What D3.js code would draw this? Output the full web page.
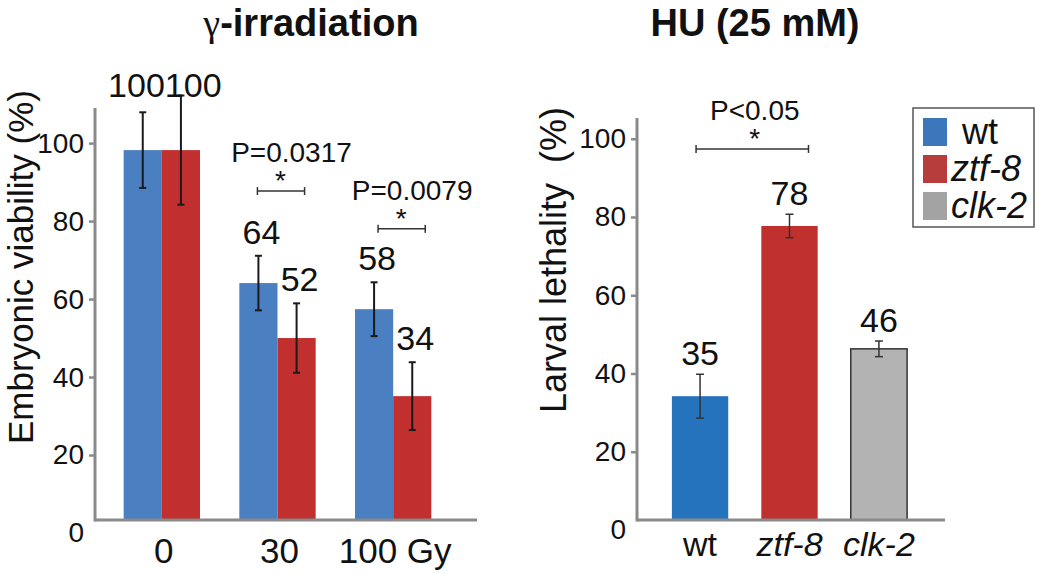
<!DOCTYPE html>
<html>
<head>
<meta charset="utf-8">
<script src="https://cdn.jsdelivr.net/npm/d3@7"></script>
<style>
  body { margin: 0; background: #fff; }
  svg text { font-family: "Liberation Sans", Arial, sans-serif; fill: #111; }
</style>
</head>
<body>
<svg id="chart" width="1050" height="574"></svg>
<script>
// left panel: gamma irradiation, embryonic viability
var doses = ["0", "30", "100 Gy"];
var strains = ["wt", "ztf-8"];
var wtViab = [98.2, 64.1, 57.4];
var wtViabSd = [9.7, 7, 6.9];
var ztfViab = [98.2, 50, 35.1];
var ztfViabSd = [14, 8.9, 8.7];
var wtViabLabel = ["100", "64", "58"];
var ztfViabLabel = ["100", "52", "34"];
var viabTicks = [0, 20, 40, 60, 80, 100];
var viabSig = [
  {dose: "30", level: 87.7, p: "P=0.0317"},
  {dose: "100 Gy", level: 78, p: "P=0.0079"}
];

// right panel: HU, larval lethality
var huStrains = ["wt", "ztf-8", "clk-2"];
var huLeth = [34.2, 77.7, 46.3];
var huLethSd = [5.6, 3, 2];
var huLethLabel = ["35", "78", "46"];
var lethTicks = [0, 20, 40, 60, 80, 100];
var lethSig = {from: "wt", to: "ztf-8", level: 97.4, p: "P<0.05"};

var baseline = 520;
var svg = d3.select("#chart");

var colors = {
  left: {"wt": "#4a7fc2", "ztf-8": "#c1302e"},
  right: {"wt": "#2673bd", "ztf-8": "#c0302f", "clk-2": "#b3b3b3"},
  legend: {"wt": "#3d76bb", "ztf-8": "#b73c3c", "clk-2": "#a3a3a3"}
};

function drawYAxis(g, y, ticks, x0, topVal) {
  var ax = g.append("g")
    .attr("transform", "translate(" + x0 + ",0)")
    .call(d3.axisLeft(y).tickValues(ticks).tickSize(6).tickSizeOuter(0).tickPadding(5));
  ax.select(".domain").remove();
  ax.selectAll(".tick line").attr("stroke", "#8a8a8a").attr("stroke-width", 2.5)
    .filter(function(d) { return d === 0; }).remove();
  ax.selectAll(".tick text").attr("font-size", 28).attr("fill", "#111")
    .attr("font-family", "Liberation Sans, Arial, sans-serif");
  g.append("line")
    .attr("x1", x0).attr("x2", x0)
    .attr("y1", y(topVal)).attr("y2", baseline + 1.5)
    .attr("stroke", "#8a8a8a").attr("stroke-width", 3);
}

function errorBar(g, cx, yTop, yBot, half, w, col) {
  g.append("line").attr("x1", cx).attr("x2", cx).attr("y1", yTop).attr("y2", yBot)
    .attr("stroke", col).attr("stroke-width", w);
  [yTop, yBot].forEach(function(yy) {
    g.append("line").attr("x1", cx - half).attr("x2", cx + half).attr("y1", yy).attr("y2", yy)
      .attr("stroke", col).attr("stroke-width", w);
  });
}

function bracket(g, x1, x2, yy, label, labelX, starX) {
  g.append("line").attr("x1", x1).attr("x2", x2).attr("y1", yy).attr("y2", yy)
    .attr("stroke", "#333").attr("stroke-width", 1.5);
  [x1, x2].forEach(function(xx) {
    g.append("line").attr("x1", xx).attr("x2", xx).attr("y1", yy - 4).attr("y2", yy + 4)
      .attr("stroke", "#333").attr("stroke-width", 1.5);
  });
  g.append("text").attr("x", starX).attr("y", yy - 1).attr("text-anchor", "middle")
    .attr("font-size", 28).text("*");
  g.append("text").attr("x", labelX).attr("y", yy - 29).attr("text-anchor", "middle")
    .attr("font-size", 28).text(label);
}

// ---------- left panel ----------
var gL = svg.append("g");
var yL = d3.scaleLinear().domain([0, 109]).range([533, 108]);
var x0L = d3.scaleBand().domain(doses).range([104, 451]).paddingInner(0.34).paddingOuter(0.17);
var x1L = d3.scaleBand().domain(strains).range([0, x0L.bandwidth()]);

var leftRows = doses.map(function(d, i) {
  return [
    {dose: d, strain: "wt", v: wtViab[i], sd: wtViabSd[i], label: wtViabLabel[i], gi: i},
    {dose: d, strain: "ztf-8", v: ztfViab[i], sd: ztfViabSd[i], label: ztfViabLabel[i], gi: i}
  ];
});
var leftFlat = d3.merge(leftRows);

gL.selectAll("rect.bar")
  .data(leftFlat)
  .enter().append("rect")
  .attr("class", "bar")
  .attr("x", function(d) { return x0L(d.dose) + x1L(d.strain); })
  .attr("width", x1L.bandwidth())
  .attr("y", function(d) { return yL(d.v); })
  .attr("height", function(d) { return baseline - yL(d.v); })
  .attr("fill", function(d) { return colors.left[d.strain]; });

leftFlat.forEach(function(d) {
  var cx = x0L(d.dose) + x1L(d.strain) + x1L.bandwidth() / 2;
  errorBar(gL, cx, yL(d.v + d.sd), yL(d.v - d.sd), 3.5, 2, "#1a1a1a");
});

// value labels
leftRows.forEach(function(pair, i) {
  var mid = x0L(pair[0].dose) + x0L.bandwidth() / 2;
  if (i === 0) {
    // the two "100" labels sit side by side
    var yy = (yL(pair[0].v + pair[0].sd) + yL(pair[1].v + pair[1].sd)) / 2 - 7;
    gL.append("text").attr("x", mid + 3).attr("y", yy).attr("text-anchor", "end")
      .attr("font-size", 34).text(pair[0].label);
    gL.append("text").attr("x", mid + 3).attr("y", yy).attr("text-anchor", "start")
      .attr("font-size", 34).text(pair[1].label);
  } else {
    pair.forEach(function(d) {
      var cx = x0L(d.dose) + x1L(d.strain) + x1L.bandwidth() / 2;
      gL.append("text").attr("x", cx + 3).attr("y", yL(d.v + d.sd) - 12)
        .attr("text-anchor", "middle").attr("font-size", 34).text(d.label);
    });
  }
});

viabSig.forEach(function(s) {
  var a = x0L(s.dose) + x1L("wt") + x1L.bandwidth() / 2;
  var b = x0L(s.dose) + x1L("ztf-8") + x1L.bandwidth() / 2;
  var shift = s.dose === "30" ? 0 : 5;
  bracket(gL, a - 1 + shift, b + 8 + shift, yL(s.level), s.p, (a + b) / 2 + 14 + shift, (a + b) / 2 + 3 + shift);
});

drawYAxis(gL, yL, viabTicks, 95, 109);
gL.append("line").attr("x1", 95).attr("x2", 477).attr("y1", baseline).attr("y2", baseline)
  .attr("stroke", "#8a8a8a").attr("stroke-width", 3);

gL.selectAll("text.xlab")
  .data(doses)
  .enter().append("text")
  .attr("class", "xlab")
  .attr("x", function(d) { return x0L(d) + x0L.bandwidth() / 2 + 2; })
  .attr("y", 563)
  .attr("text-anchor", "middle")
  .attr("font-size", 35)
  .text(function(d) { return d; });

gL.append("text")
  .attr("transform", "translate(33,267) rotate(-90)")
  .attr("text-anchor", "middle")
  .attr("font-size", 35)
  .text("Embryonic viability (%)");

var tL = gL.append("text").attr("x", 311).attr("y", 36).attr("text-anchor", "middle")
  .attr("font-size", 38).attr("font-weight", "bold");
tL.append("tspan").attr("font-family", "Liberation Serif, Times New Roman, serif")
  .attr("font-weight", "normal").text("γ");
tL.append("tspan").text("-irradiation");

// ---------- right panel ----------
var gR = svg.append("g");
var yR = d3.scaleLinear().domain([0, 105.3]).range([530, 118]);
var xR = d3.scaleBand().domain(huStrains).range([654, 925]).paddingInner(0.37).paddingOuter(0.2);

var rightRows = huStrains.map(function(s, i) {
  return {strain: s, v: huLeth[i], sd: huLethSd[i], label: huLethLabel[i]};
});

gR.selectAll("rect.bar")
  .data(rightRows)
  .enter().append("rect")
  .attr("class", "bar")
  .attr("x", function(d) { return xR(d.strain); })
  .attr("width", xR.bandwidth())
  .attr("y", function(d) { return yR(d.v); })
  .attr("height", function(d) { return baseline - yR(d.v); })
  .attr("fill", function(d) { return colors.right[d.strain]; })
  .attr("stroke", function(d) { return d.strain === "clk-2" ? "#333" : "none"; })
  .attr("stroke-width", 1.5);

rightRows.forEach(function(d) {
  var cx = xR(d.strain) + xR.bandwidth() / 2;
  errorBar(gR, cx, yR(d.v + d.sd), yR(d.v - d.sd), 4, 1.5, "#333");
  gR.append("text").attr("x", cx).attr("y", yR(d.v + d.sd) - 9)
    .attr("text-anchor", "middle").attr("font-size", 34).text(d.label);
});

(function() {
  var a = xR(lethSig.from) + xR.bandwidth() / 2;
  var b = xR(lethSig.to) + xR.bandwidth() / 2;
  bracket(gR, a - 4, b + 19, yR(lethSig.level), lethSig.p, (a + b) / 2 + 10, (a + b) / 2 + 10);
})();

drawYAxis(gR, yR, lethTicks, 637, 105.3);
gR.append("line").attr("x1", 637).attr("x2", 945).attr("y1", baseline).attr("y2", baseline)
  .attr("stroke", "#8a8a8a").attr("stroke-width", 3);

gR.selectAll("text.xlab")
  .data(huStrains)
  .enter().append("text")
  .attr("class", "xlab")
  .attr("x", function(d) { return xR(d) + xR.bandwidth() / 2; })
  .attr("y", 556)
  .attr("text-anchor", "middle")
  .attr("font-size", 34)
  .attr("font-style", function(d) { return d === "wt" ? "normal" : "italic"; })
  .text(function(d) { return d; });

gR.append("text")
  .attr("transform", "translate(566,260) rotate(-90)")
  .attr("text-anchor", "middle")
  .attr("font-size", 36)
  .attr("xml:space", "preserve")
  .style("white-space", "pre")
  .text("Larval lethality  (%)");

gR.append("text").attr("x", 755).attr("y", 36).attr("text-anchor", "middle")
  .attr("font-size", 38).attr("font-weight", "bold").text("HU (25 mM)");

// legend
var lg = svg.append("g");
lg.append("rect").attr("x", 913).attr("y", 108).attr("width", 121).attr("height", 119)
  .attr("fill", "#fff").attr("stroke", "#555").attr("stroke-width", 1.5);
var legY = d3.scalePoint().domain(huStrains).range([132, 206]);
huStrains.forEach(function(s) {
  lg.append("rect").attr("x", 923).attr("y", legY(s) - 14).attr("width", 24).attr("height", 28)
    .attr("fill", colors.legend[s]);
  lg.append("text").attr("x", s === "wt" ? 962 : 951).attr("y", legY(s) + 12)
    .attr("font-size", 36)
    .attr("font-style", s === "wt" ? "normal" : "italic")
    .text(s);
});
</script>
</body>
</html>
